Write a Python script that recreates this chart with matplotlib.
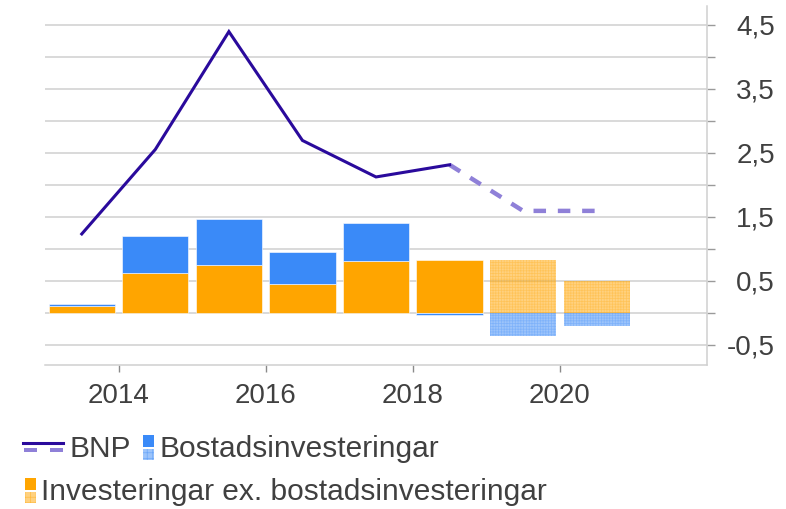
import matplotlib
matplotlib.use('Agg')
import matplotlib.pyplot as plt
from matplotlib.patches import Rectangle
from matplotlib.lines import Line2D
from matplotlib.ticker import FixedLocator, FuncFormatter

plt.rcParams['font.family'] = ['Liberation Sans', 'DejaVu Sans']
plt.rcParams['hatch.linewidth'] = 0.5
plt.rcParams['lines.scale_dashes'] = False

# data, 2019-2020 = prognos
years = [2013, 2014, 2015, 2016, 2017, 2018, 2019, 2020]
prognos = [False, False, False, False, False, False, True, True]
bnp = [1.23, 2.55, 4.39, 2.69, 2.12, 2.31, 1.59, 1.59]
ovriga_inv = [0.10, 0.62, 0.74, 0.45, 0.81, 0.83, 0.82, 0.50]
bostad_inv = [0.03, 0.57, 0.72, 0.50, 0.59, -0.04, -0.36, -0.21]

y_ticks = [-0.5, 0, 0.5, 1, 1.5, 2, 2.5, 3, 3.5, 4, 4.5]
x_ticks = [2014, 2016, 2018, 2020]

ORANGE = '#ffa500'
BLUE = '#3a8af8'
LINE = '#2a0a9c'
LINE_L = '#8f80d8'
TXT = '#404040'

W, H = 786, 509
fig = plt.figure(figsize=(W / 100, H / 100), dpi=100)
ax = fig.add_axes([45 / W, 1 - 365 / H, (707 - 45) / W, (365 - 6) / H])


def bar_style(forecast, color):
    if forecast:
        # prognos: halvgenomskinlig med fint rutmönster
        return dict(facecolor=(color, 0.5), hatch='++++++', edgecolor=(color, 0.3),
                    linewidth=0)
    return dict(color=color, edgecolor='white', linewidth=0.4)


for yr, f, o, b in zip(years, prognos, ovriga_inv, bostad_inv):
    x = yr + 0.5
    ax.bar(x, o, width=0.9, zorder=2, **bar_style(f, ORANGE))
    bottom = o if b > 0 else 0
    ax.bar(x, b, bottom=bottom, width=0.9, zorder=2, **bar_style(f, BLUE))

# BNP - utfall heldragen, prognos streckad
xs = [y + 0.5 for y in years]
n_utfall = prognos.index(True)
ax.plot(xs[:n_utfall], bnp[:n_utfall], color=LINE, lw=2.2, zorder=4,
        solid_joinstyle='miter')
ax.plot(xs[n_utfall - 1:], bnp[n_utfall - 1:], color=LINE_L, lw=3.2, zorder=3,
        dashes=(9, 8.5), dash_capstyle='butt')

ax.set_xlim(2013, 2022)
ax.set_ylim(-0.817, 4.79)

ax.yaxis.set_major_locator(FixedLocator(y_ticks))
ax.yaxis.set_major_formatter(FuncFormatter(
    lambda v, p: '' if abs(v - round(v)) < 1e-9 else f'{v:.1f}'.replace('.', ',')))
ax.yaxis.tick_right()
ax.tick_params(axis='y', length=6, width=1, color='#9a9a9a', pad=43,
               labelsize=20, labelcolor=TXT)
for lab in ax.get_yticklabels():
    lab.set_horizontalalignment('right')
ax.set_xticks(x_ticks)
ax.set_xticklabels([str(x) for x in x_ticks])
ax.tick_params(axis='x', length=5, width=1, color='#8a8a8a', pad=8,
               labelsize=20, labelcolor=TXT)

ax.grid(axis='y', color='#cfcfcf', lw=1.1, zorder=0)
ax.set_axisbelow(True)
for s in ['left', 'top']:
    ax.spines[s].set_visible(False)
for s in ['right', 'bottom']:
    ax.spines[s].set_color('#d0d0d0')
    ax.spines[s].set_linewidth(1.1)


# legend, ritad för hand i pixelkoordinater
def fx(x):
    return x / W


def fy(y):
    return 1 - y / H


def box(x0, y0, x1, y1, **kw):
    fig.add_artist(Rectangle((fx(x0), fy(y1)), fx(x1) - fx(x0), fy(y0) - fy(y1),
                             transform=fig.transFigure, **kw))


def key(x, y, color):
    box(x, y, x + 11, y + 12, color=color, lw=0)
    box(x, y + 14, x + 11, y + 25, facecolor=(color, 0.5), hatch='+++',
        edgecolor=(color, 0.5), lw=0)


fig.add_artist(Line2D([fx(23), fx(63)], [fy(442.5), fy(442.5)], color=LINE, lw=2.2,
                      transform=fig.transFigure))
box(24, 448, 37, 452, color=LINE_L, hatch='+++', edgecolor='#6f5fc8', lw=0)
box(50, 448, 63, 452, color=LINE_L, hatch='+++', edgecolor='#6f5fc8', lw=0)
fig.text(fx(69), fy(457), 'BNP', fontsize=21.5, color=TXT, va='baseline')

key(143, 435, BLUE)
fig.text(fx(160), fy(457), 'Bostadsinvesteringar', fontsize=21.5, color=TXT, va='baseline')

key(25, 478, ORANGE)
fig.text(fx(41), fy(500), 'Investeringar ex. bostadsinvesteringar', fontsize=21.5,
         color=TXT, va='baseline')

fig.savefig('out.png', dpi=100)
